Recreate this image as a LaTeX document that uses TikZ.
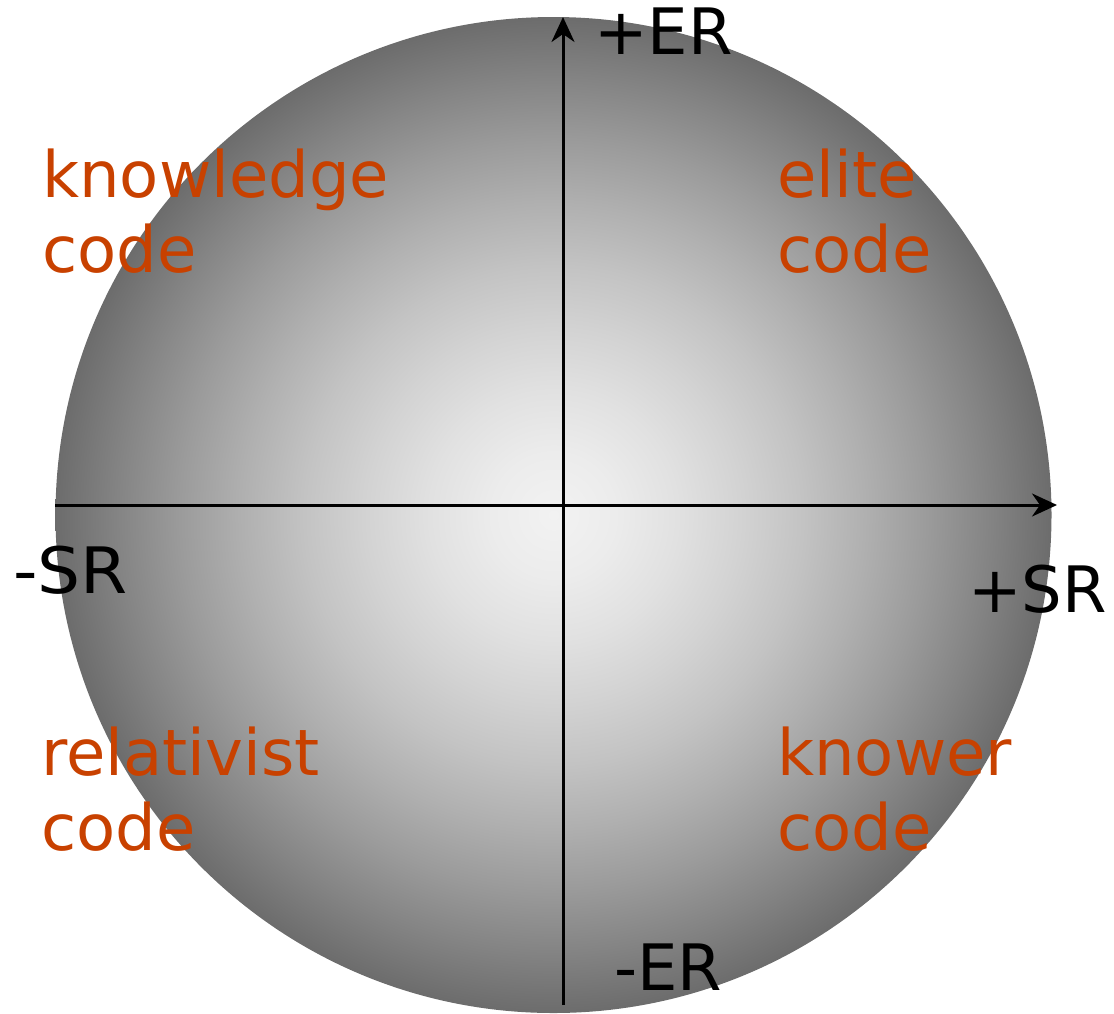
\documentclass[tikz,border=0pt]{standalone}
\usepackage{fontspec}
\setmainfont{DejaVu Sans}
\usetikzlibrary{arrows.meta}
\definecolor{codecol}{RGB}{200,65,0}
\pgfdeclareradialshading{discshade}{\pgfpoint{0bp}{0bp}}{%
  rgb(0bp)=(.949,.949,.949);
  rgb(3.125bp)=(.925,.925,.925);
  rgb(6.25bp)=(.882,.882,.882);
  rgb(9.375bp)=(.827,.827,.827);
  rgb(12.5bp)=(.765,.765,.765);
  rgb(15.625bp)=(.690,.690,.690);
  rgb(18.75bp)=(.608,.608,.608);
  rgb(21.875bp)=(.518,.518,.518);
  rgb(25bp)=(.424,.424,.424);
  rgb(50bp)=(.424,.424,.424)}
\tikzset{
  axis/.style={line width=3pt, -{Stealth[length=25pt,width=23pt,inset=8pt]}},
  axislabel/.style={inner sep=0pt, anchor=base west, font=\fontsize{64}{75}\selectfont, text=black},
  codelabel/.style={inner sep=0pt, anchor=base west, align=left, font=\fontsize{64}{75}\selectfont, text=codecol},
}
\begin{document}
\begin{tikzpicture}[x=1pt,y=-1pt]
\useasboundingbox (0,0) rectangle (1114,1013);
\node[circle, minimum size=996pt, inner sep=0pt, shading=discshade] (disc) at (553.5,515) {};
\coordinate (xl) at (55,505);
\coordinate (xr) at (1057,505);
\coordinate (yb) at (563,1005);
\coordinate (yt) at (563,17);
\draw[axis] (xl) -- (xr);
\draw[axis] (yb) -- (yt);
\node[axislabel] (er+) at (594,54) {+ER};
\node[axislabel] (er-) at (614,990) {-ER};
\node[axislabel, xscale=1.06] (sr-) at (13,593) {-SR};
\node[axislabel] (sr+) at (968,612) {+SR};
\node[codelabel] (kc) at (42,272) {knowledge\\code};
\node[codelabel] (ec) at (777,272) {elite\\code};
\node[codelabel] (rc) at (41,850) {relativist\\code};
\node[codelabel] (knc) at (777,850) {knower\\code};
\end{tikzpicture}
\end{document}
